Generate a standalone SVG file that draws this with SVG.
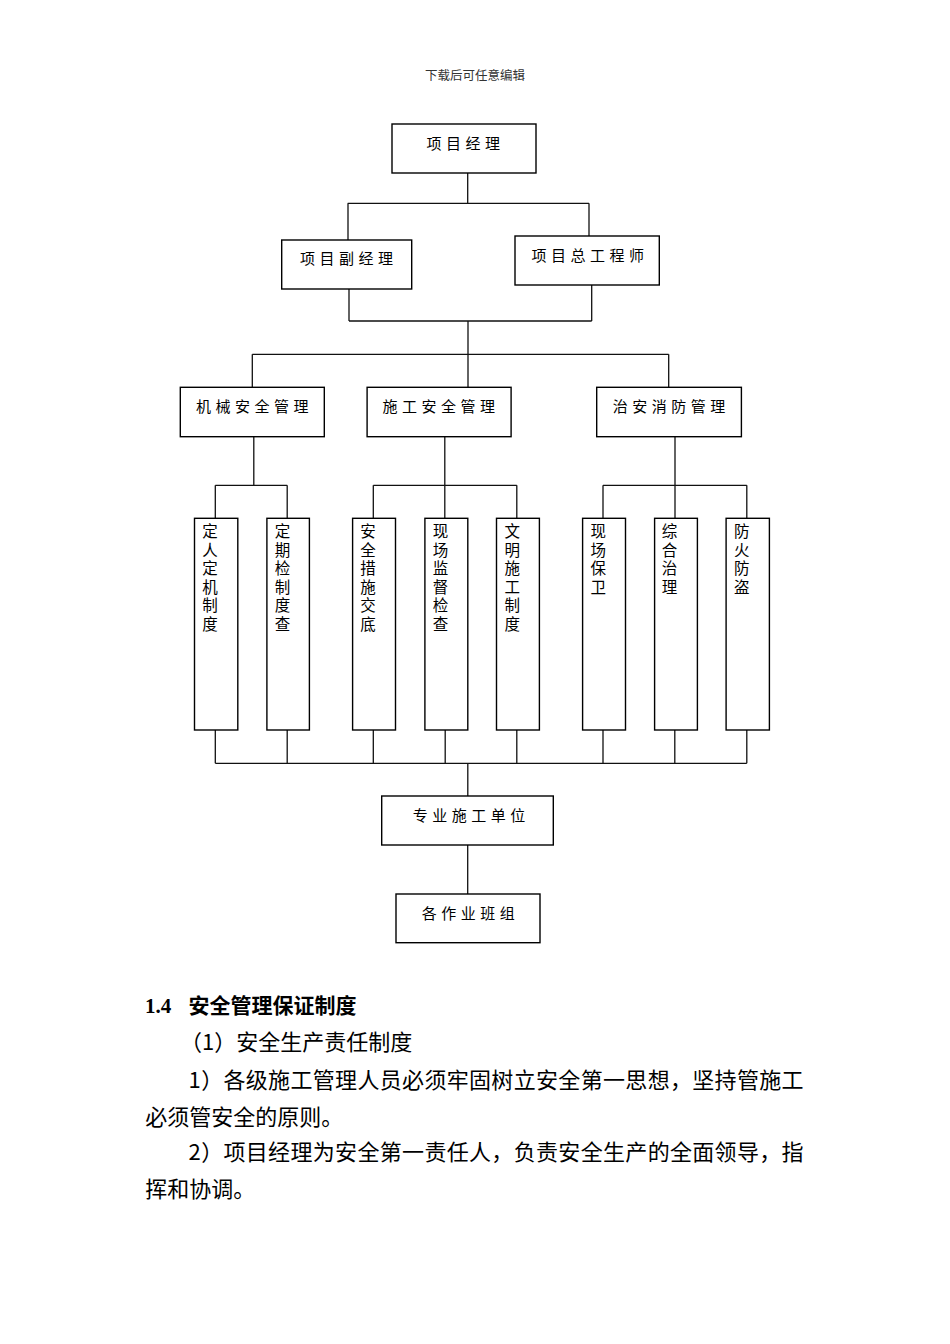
<svg xmlns="http://www.w3.org/2000/svg" width="950" height="1344" viewBox="0 0 950 1344">
<style>
.box{fill:#fff;stroke:#000;stroke-width:1.4}
.ln{stroke:#111;stroke-width:1.3;fill:none}
.t{font-family:"Noto Sans CJK SC","Liberation Serif",serif;font-size:15px;fill:#000;letter-spacing:4.5px}
.v{font-family:"Noto Sans CJK SC","Liberation Serif",serif;font-size:15.5px;fill:#000;text-anchor:middle}
.hd{font-family:"Noto Sans CJK SC",sans-serif;font-size:12.5px;fill:#333}
.b{font-family:"Noto Sans CJK SC",sans-serif;font-size:22px;fill:#000}
.h{font-family:"Noto Sans CJK SC",sans-serif;font-size:21px;font-weight:bold;fill:#000}
</style>
<rect width="950" height="1344" fill="#fff"/>
<text class="hd" x="425" y="80">下载后可任意编辑</text>

<g id="connectors">
<path class="ln" d="M467.7,173V203.3M347.7,203.3H589M348,203.3V240M589,203.3V236"/>
<path class="ln" d="M349,289V321M591.7,285V321M349,321H591.7M468,321V387.3"/>
<path class="ln" d="M252.3,354.3H668.7M252.3,354.3V387.3M668.7,354.3V387.3"/>
<path class="ln" d="M253.8,436.7V485.3M215.3,485.3H287.2M215.3,485.3V518.3M287.2,485.3V518.3"/>
<path class="ln" d="M444.8,436.7V518.3M373.3,485.3H516.8M373.3,485.3V518.3M516.8,485.3V518.3"/>
<path class="ln" d="M675,436.7V518.3M603,485.3H746.8M603,485.3V518.3M746.8,485.3V518.3"/>
<path class="ln" d="M215.3,730V763.3M287.2,730V763.3M373.3,730V763.3M445.2,730V763.3M516.8,730V763.3M603,730V763.3M674.8,730V763.3M746.8,730V763.3M215.3,763.3H746.8M467.8,763.3V796"/>
<path class="ln" d="M467.7,845V894"/>
</g>

<g id="n-pm"><rect class="box" x="392" y="124" width="144" height="49"/><text class="t" x="426.5" y="149">项目经理</text></g>
<g id="n-dpm"><rect class="box" x="281.7" y="240" width="130" height="49"/><text class="t" x="300" y="264">项目副经理</text></g>
<g id="n-ce"><rect class="box" x="515" y="236" width="144.3" height="49"/><text class="t" x="531.5" y="260.7">项目总工程师</text></g>

<g id="n-mech"><rect class="box" x="180.3" y="387.3" width="144" height="49.4"/><text class="t" x="196" y="412.4">机械安全管理</text></g>
<g id="n-cons"><rect class="box" x="367.1" y="387.3" width="144" height="49.4"/><text class="t" x="382.4" y="412.4">施工安全管理</text></g>
<g id="n-fire"><rect class="box" x="596.7" y="387.3" width="144.7" height="49.4"/><text class="t" x="612.8" y="412.4">治安消防管理</text></g>

<g id="n-a1"><rect class="box" x="194.5" y="518.3" width="43.3" height="211.7"/><text class="v" x="210" y="537"><tspan x="210">定</tspan><tspan x="210" dy="18.6">人</tspan><tspan x="210" dy="18.6">定</tspan><tspan x="210" dy="18.6">机</tspan><tspan x="210" dy="18.6">制</tspan><tspan x="210" dy="18.6">度</tspan></text></g>
<g id="n-a2"><rect class="box" x="266.9" y="518.3" width="42.5" height="211.7"/><text class="v" x="282.5" y="537"><tspan x="282.5">定</tspan><tspan x="282.5" dy="18.6">期</tspan><tspan x="282.5" dy="18.6">检</tspan><tspan x="282.5" dy="18.6">制</tspan><tspan x="282.5" dy="18.6">度</tspan><tspan x="282.5" dy="18.6">查</tspan></text></g>
<g id="n-b1"><rect class="box" x="352.6" y="518.3" width="42.9" height="211.7"/><text class="v" x="368" y="537"><tspan x="368">安</tspan><tspan x="368" dy="18.6">全</tspan><tspan x="368" dy="18.6">措</tspan><tspan x="368" dy="18.6">施</tspan><tspan x="368" dy="18.6">交</tspan><tspan x="368" dy="18.6">底</tspan></text></g>
<g id="n-b2"><rect class="box" x="424.9" y="518.3" width="42.9" height="211.7"/><text class="v" x="440.5" y="537"><tspan x="440.5">现</tspan><tspan x="440.5" dy="18.6">场</tspan><tspan x="440.5" dy="18.6">监</tspan><tspan x="440.5" dy="18.6">督</tspan><tspan x="440.5" dy="18.6">检</tspan><tspan x="440.5" dy="18.6">查</tspan></text></g>
<g id="n-b3"><rect class="box" x="496.5" y="518.3" width="42.9" height="211.7"/><text class="v" x="512.3" y="537"><tspan x="512.3">文</tspan><tspan x="512.3" dy="18.6">明</tspan><tspan x="512.3" dy="18.6">施</tspan><tspan x="512.3" dy="18.6">工</tspan><tspan x="512.3" dy="18.6">制</tspan><tspan x="512.3" dy="18.6">度</tspan></text></g>
<g id="n-c1"><rect class="box" x="582.6" y="518.3" width="42.9" height="211.7"/><text class="v" x="598.2" y="537"><tspan x="598.2">现</tspan><tspan x="598.2" dy="18.6">场</tspan><tspan x="598.2" dy="18.6">保</tspan><tspan x="598.2" dy="18.6">卫</tspan></text></g>
<g id="n-c2"><rect class="box" x="654.6" y="518.3" width="42.8" height="211.7"/><text class="v" x="669.5" y="537"><tspan x="669.5">综</tspan><tspan x="669.5" dy="18.6">合</tspan><tspan x="669.5" dy="18.6">治</tspan><tspan x="669.5" dy="18.6">理</tspan></text></g>
<g id="n-c3"><rect class="box" x="726.1" y="518.3" width="43.3" height="211.7"/><text class="v" x="741.8" y="537"><tspan x="741.8">防</tspan><tspan x="741.8" dy="18.6">火</tspan><tspan x="741.8" dy="18.6">防</tspan><tspan x="741.8" dy="18.6">盗</tspan></text></g>

<g id="n-sub"><rect class="box" x="381.7" y="796" width="171.6" height="49"/><text class="t" x="412.7" y="820.7">专业施工单位</text></g>
<g id="n-team"><rect class="box" x="396" y="894" width="144" height="48.7"/><text class="t" x="421.7" y="919">各作业班组</text></g>

<g id="body">
<text class="h" x="145" y="1013"><tspan font-family="Liberation Serif,serif">1.4</tspan><tspan x="188.6">安全管理保证制度</tspan></text>
<text class="b" x="180" y="1050">（1）安全生产责任制度</text>
<text class="b" x="188.6" y="1087.7" textLength="615" lengthAdjust="spacing">1）各级施工管理人员必须牢固树立安全第一思想，坚持管施工</text>
<text class="b" x="145.2" y="1125">必须管安全的原则。</text>
<text class="b" x="188.6" y="1160" textLength="615" lengthAdjust="spacing">2）项目经理为安全第一责任人，负责安全生产的全面领导，指</text>
<text class="b" x="145.2" y="1196.7">挥和协调。</text>
</g>
</svg>
